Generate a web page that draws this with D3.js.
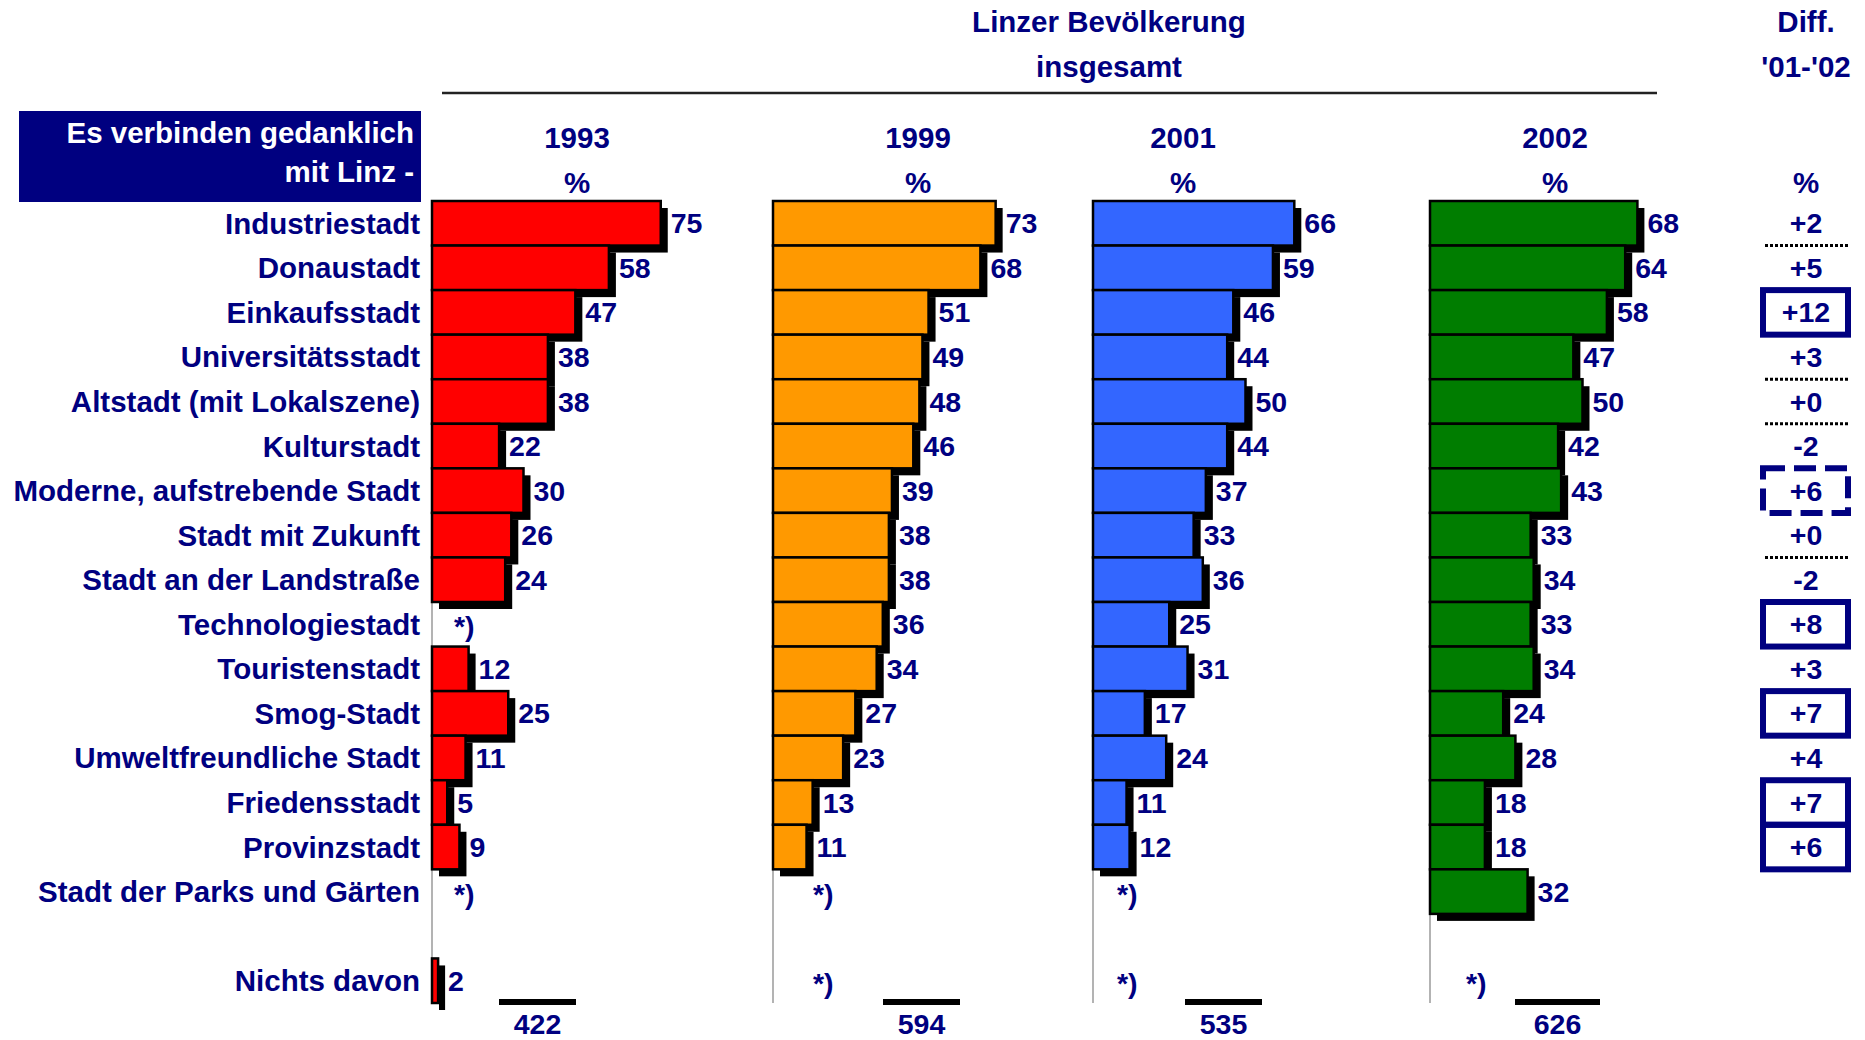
<!DOCTYPE html>
<html>
<head>
<meta charset="utf-8">
<script src="https://cdn.jsdelivr.net/npm/d3@7"></script>
<style>
body { margin: 0; background: #fff; }
text { font-family: "Liberation Sans", Arial, sans-serif; font-weight: bold; }
</style>
</head>
<body>
<script>
const categories = ["Industriestadt", "Donaustadt", "Einkaufsstadt", "Universitätsstadt",
  "Altstadt (mit Lokalszene)", "Kulturstadt", "Moderne, aufstrebende Stadt", "Stadt mit Zukunft",
  "Stadt an der Landstraße", "Technologiestadt", "Touristenstadt", "Smog-Stadt",
  "Umweltfreundliche Stadt", "Friedensstadt", "Provinzstadt", "Stadt der Parks und Gärten",
  "Nichts davon"];
const years = ["1993", "1999", "2001", "2002"];
// null = nicht abgefragt  -> "*)"
const v1993 = [75, 58, 47, 38, 38, 22, 30, 26, 24, null, 12, 25, 11, 5, 9, null, 2];
const v1999 = [73, 68, 51, 49, 48, 46, 39, 38, 38, 36, 34, 27, 23, 13, 11, null, null];
const v2001 = [66, 59, 46, 44, 50, 44, 37, 33, 36, 25, 31, 17, 24, 11, 12, null, null];
const v2002 = [68, 64, 58, 47, 50, 42, 43, 33, 34, 33, 34, 24, 28, 18, 18, 32, null];
const sampleN = [422, 594, 535, 626];
const diff = ["+2", "+5", "+12", "+3", "+0", "-2", "+6", "+0", "-2", "+8", "+3", "+7", "+4", "+7", "+6"];
// mark: box, dash, dot (underline) or none
const diffMark = ["dot", "", "box", "dot", "dot", "", "dash", "dot", "", "box", "", "box", "", "box", "box"];

const series = [v1993, v1999, v2001, v2002];
const colors = ["#ff0000", "#ff9900", "#3366ff", "#007d00"];
const navy = "#000080";

const w = 1865, h = 1040;
const baseX = [432, 773, 1093, 1430];
const headX = [577, 918, 1183, 1555];
const nLine = [[499, 576], [883, 960], [1185, 1262], [1515, 1600]];
const starOff = [22, 40, 24, 36];
const diffX = 1806;
const fs = 29.5, fsNum = 28.5;

const svg = d3.select("body").append("svg")
  .attr("width", w).attr("height", h);

// rows: 16 Kategorien, Leerzeile, "Nichts davon"
const slots = categories.slice(0, 16).concat(["_gap"], categories.slice(16));
const y = d3.scaleBand().domain(slots).range([201, 1003]).paddingInner(0);
const x = d3.scaleLinear().domain([0, 100]).range([0, 305]);

function label(sel, tx, ty, txt, size, fill, anchor) {
  return sel.append("text").attr("x", tx).attr("y", ty)
    .attr("text-anchor", anchor || "middle")
    .attr("dominant-baseline", "central")
    .attr("font-size", size).attr("fill", fill || navy)
    .text(txt);
}

// header
label(svg, 1109, 21, "Linzer Bevölkerung", fs);
label(svg, 1109, 66, "insgesamt", fs);
svg.append("line").attr("x1", 442).attr("x2", 1657).attr("y1", 93).attr("y2", 93)
  .attr("stroke", "#222").attr("stroke-width", 2.5);
label(svg, diffX, 21, "Diff.", fs);
label(svg, diffX, 66, "'01-'02", fs);
label(svg, diffX, 182, "%", fs);

// title box
svg.append("rect").attr("x", 19).attr("y", 111).attr("width", 402).attr("height", 91)
  .attr("fill", navy);
label(svg, 414, 132, "Es verbinden gedanklich", fs, "#fff", "end");
label(svg, 414, 171, "mit Linz -", fs, "#fff", "end");

// category labels
svg.selectAll(".cat")
  .data(categories)
  .enter()
  .append("text")
  .attr("class", "cat")
  .attr("x", 420)
  .attr("y", (d) => y(d) + y.bandwidth() / 2)
  .attr("text-anchor", "end")
  .attr("dominant-baseline", "central")
  .attr("font-size", fs)
  .attr("fill", navy)
  .text((d) => d);

series.forEach(function(vals, c) {
  const g = svg.append("g").attr("transform", "translate(" + baseX[c] + ",0)");
  const rows = vals.map((v, i) => ({cat: categories[i], v: v}));
  const bars = rows.filter((d) => d.v !== null);

  label(g, headX[c] - baseX[c], 137, years[c], fs);
  label(g, headX[c] - baseX[c], 182, "%", fs);

  g.append("line").attr("x1", 0).attr("x2", 0)
    .attr("y1", y.range()[0]).attr("y2", y.range()[1])
    .attr("stroke", "#808080").attr("stroke-width", 1.2);

  g.selectAll(".shadow")
    .data(bars)
    .enter()
    .append("rect")
    .attr("class", "shadow")
    .attr("x", 7)
    .attr("y", (d) => y(d.cat) + 7)
    .attr("width", (d) => x(d.v))
    .attr("height", y.bandwidth())
    .attr("fill", "#000");

  g.selectAll(".bar")
    .data(bars)
    .enter()
    .append("rect")
    .attr("class", "bar")
    .attr("x", 0)
    .attr("y", (d) => y(d.cat))
    .attr("width", (d) => x(d.v))
    .attr("height", y.bandwidth())
    .attr("fill", colors[c])
    .attr("stroke", "#000")
    .attr("stroke-width", 2.5);

  g.selectAll(".val")
    .data(rows)
    .enter()
    .append("text")
    .attr("class", "val")
    .attr("x", (d) => d.v === null ? starOff[c] : x(d.v) + 10)
    .attr("y", (d) => y(d.cat) + y.bandwidth() / 2 + (d.v === null ? 2 : 0))
    .attr("dominant-baseline", "central")
    .attr("font-size", fsNum)
    .attr("fill", navy)
    .text((d) => d.v === null ? "*)" : d.v);

  svg.append("line").attr("x1", nLine[c][0]).attr("x2", nLine[c][1])
    .attr("y1", 1002).attr("y2", 1002).attr("stroke", "#000").attr("stroke-width", 6);
  label(svg, (nLine[c][0] + nLine[c][1]) / 2, 1024, sampleN[c], fsNum);
});

// Differenz-Spalte
const drows = diff.map((d, i) => ({cat: categories[i], t: d, m: diffMark[i]}));
svg.selectAll(".dbox")
  .data(drows.filter((d) => d.m === "box" || d.m === "dash"))
  .enter()
  .append("rect")
  .attr("class", "dbox")
  .attr("x", 1763)
  .attr("y", (d) => y(d.cat))
  .attr("width", 85)
  .attr("height", y.bandwidth())
  .attr("fill", "none")
  .attr("stroke", navy)
  .attr("stroke-width", 6)
  .attr("stroke-dasharray", (d) => d.m === "dash" ? "22,9" : null);

svg.selectAll(".dline")
  .data(drows.filter((d) => d.m === "dot"))
  .enter()
  .append("line")
  .attr("class", "dline")
  .attr("x1", 1765).attr("x2", 1848)
  .attr("y1", (d) => y(d.cat) + y.bandwidth())
  .attr("y2", (d) => y(d.cat) + y.bandwidth())
  .attr("stroke", "#000")
  .attr("stroke-width", 3)
  .attr("stroke-dasharray", "3,2");

svg.selectAll(".dval")
  .data(drows)
  .enter()
  .append("text")
  .attr("class", "dval")
  .attr("x", diffX)
  .attr("y", (d) => y(d.cat) + y.bandwidth() / 2)
  .attr("text-anchor", "middle")
  .attr("dominant-baseline", "central")
  .attr("font-size", fsNum)
  .attr("fill", navy)
  .text((d) => d.t);
</script>
</body>
</html>
